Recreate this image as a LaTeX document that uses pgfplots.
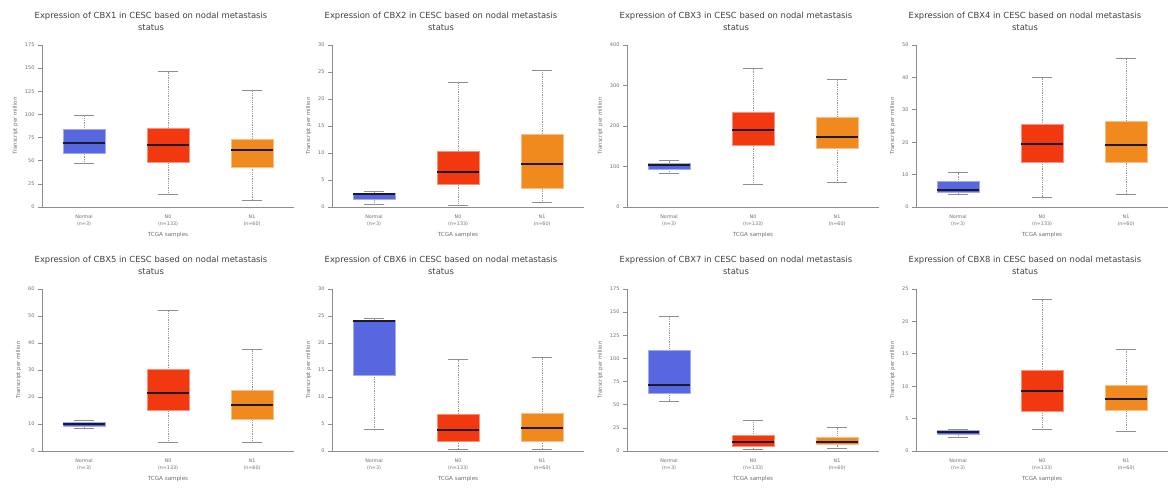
\documentclass[border=0pt]{standalone}
\usepackage{fontspec}
\setmainfont{DejaVu Sans}
\usepackage{pgfplots}
\pgfplotsset{compat=1.18}

\definecolor{cnorm}{HTML}{5767E0}
\definecolor{cn0}{HTML}{F2380E}
\definecolor{cn1}{HTML}{F08A1E}
\definecolor{axgray}{HTML}{8E8E8E}
\definecolor{txtgray}{HTML}{6E6E6E}
\definecolor{medcol}{HTML}{1A1A2A}

\pgfplotsset{
  ualcan/.style={
    scale only axis, width=252pt, height=162pt,
    xmin=0.5, xmax=3.5, ymin=0,
    axis x line=bottom, axis y line=left,
    axis line style={-, draw=axgray, line width=0.8pt},
    xtick={1,2,3},
    xticklabels={{Normal\\(n=3)},{N0\\(n=133)},{N1\\(n=60)}},
    xticklabel style={align=center, font=\fontsize{4.8}{7}\selectfont, text=txtgray},
    x tick style={draw=none},
    y tick style={draw=axgray, line width=0.7pt},
    major tick length=4pt,
    tick align=outside,
    yticklabel style={font=\fontsize{5}{5}\selectfont, text=txtgray},
    /pgf/number format/assume math mode=true,
    xlabel={TCGA samples},
    ylabel={Transcript per million},
    xlabel style={font=\fontsize{5.6}{6}\selectfont, text=txtgray},
    ylabel style={font=\fontsize{5.4}{6}\selectfont, text=txtgray},
    title style={font=\fontsize{8.4}{12}\selectfont, text=black!75, align=center, xshift=-17pt, yshift=5pt},
  },
  whisk/.style={draw=axgray!90, line width=0.8pt, densely dotted,
    mark=-, mark size=10pt, mark options={solid, draw=axgray, line width=0.9pt}},
}

% \bx{colour}{left}{centre}{right}{lower whisker}{Q1}{median}{Q3}{upper whisker}
\newcommand\bx[9]{%
  \addplot[whisk, mark indices={1}] coordinates {(#3,#5) (#3,#6)};
  \addplot[whisk, mark indices={2}] coordinates {(#3,#8) (#3,#9)};
  \addplot[fill=#1, draw=#1!55!white, line width=0.6pt]
    coordinates {(#2,#6) (#4,#6) (#4,#8) (#2,#8)} -- cycle;
  \addplot[draw=medcol, line width=2pt] coordinates {(#2,#7) (#4,#7)};
}

\begin{document}
\begin{tikzpicture}
\useasboundingbox (0,0) rectangle (1170pt,488pt);

% ---- top row ----
\begin{axis}[ualcan, at={(42pt,281pt)}, anchor=south west,
  ymax=175, ytick={0,25,...,175},
  title={Expression of CBX1 in CESC based on nodal metastasis\\status}]
  \bx{cnorm}{0.75}{1}{1.25}{46.9}{58.1}{69.3}{83.7}{99.2}
  \bx{cn0}{1.75}{2}{2.25}{13.4}{48.0}{67.1}{85.5}{146.2}
  \bx{cn1}{2.75}{3}{3.25}{7.6}{42.6}{61.7}{73.6}{126.3}
\end{axis}

\begin{axis}[ualcan, at={(332pt,281pt)}, anchor=south west,
  ymax=30, ytick={0,5,...,30},
  title={Expression of CBX2 in CESC based on nodal metastasis\\status}]
  \bx{cnorm}{0.75}{1}{1.25}{0.43}{1.35}{2.4}{2.6}{2.85}
  \bx{cn0}{1.75}{2}{2.25}{0.3}{4.27}{6.5}{10.4}{23.07}
  \bx{cn1}{2.75}{3}{3.25}{0.8}{3.5}{8.0}{13.5}{25.3}
\end{axis}

\begin{axis}[ualcan, at={(627pt,281pt)}, anchor=south west,
  ymax=400, ytick={0,100,...,400},
  title={Expression of CBX3 in CESC based on nodal metastasis\\status}]
  \bx{cnorm}{0.75}{1}{1.25}{82.5}{93.2}{103}{108}{113.8}
  \bx{cn0}{1.75}{2}{2.25}{56}{151.8}{189.7}{232.6}{342}
  \bx{cn1}{2.75}{3}{3.25}{59.4}{145}{174}{222.7}{314}
\end{axis}

\begin{axis}[ualcan, at={(916pt,281pt)}, anchor=south west,
  ymax=50, ytick={0,10,...,50},
  title={Expression of CBX4 in CESC based on nodal metastasis\\status}]
  \bx{cnorm}{0.75}{1}{1.25}{4.0}{4.4}{5.15}{7.8}{10.6}
  \bx{cn0}{1.75}{2}{2.25}{3.0}{13.9}{19.4}{25.4}{39.9}
  \bx{cn1}{2.75}{3}{3.25}{4.0}{13.9}{19.2}{26.6}{45.9}
\end{axis}

% ---- bottom row ----
\begin{axis}[ualcan, at={(42pt,37pt)}, anchor=south west,
  ymax=60, ytick={0,10,...,60},
  title={Expression of CBX5 in CESC based on nodal metastasis\\status}]
  \bx{cnorm}{0.75}{1}{1.25}{8.3}{9.0}{9.9}{10.5}{11.5}
  \bx{cn0}{1.75}{2}{2.25}{3.2}{15.1}{21.5}{30.1}{52}
  \bx{cn1}{2.75}{3}{3.25}{3.2}{11.75}{16.9}{22.6}{37.7}
\end{axis}

\begin{axis}[ualcan, at={(332pt,37pt)}, anchor=south west,
  ymax=30, ytick={0,5,...,30},
  title={Expression of CBX6 in CESC based on nodal metastasis\\status}]
  \bx{cnorm}{0.75}{1}{1.25}{3.9}{14.04}{24.1}{24.25}{24.5}
  \bx{cn0}{1.75}{2}{2.25}{0.37}{1.86}{3.96}{6.86}{16.9}
  \bx{cn1}{2.75}{3}{3.25}{0.37}{1.86}{4.2}{6.9}{17.25}
\end{axis}

\begin{axis}[ualcan, at={(627pt,37pt)}, anchor=south west,
  ymax=175, ytick={0,25,...,175},
  title={Expression of CBX7 in CESC based on nodal metastasis\\status}]
  \bx{cnorm}{0.75}{1}{1.25}{53.8}{62.8}{71.8}{108.6}{145.8}
  \bx{cn0}{1.75}{2}{2.25}{2.2}{5.4}{10.1}{16.6}{33.2}
  \bx{cn1}{2.75}{3}{3.25}{2.5}{6.9}{10.1}{14.8}{25.6}
\end{axis}

\begin{axis}[ualcan, at={(916pt,37pt)}, anchor=south west,
  ymax=25, ytick={0,5,...,25},
  title={Expression of CBX8 in CESC based on nodal metastasis\\status}]
  \bx{cnorm}{0.75}{1}{1.25}{2.1}{2.6}{3.0}{3.2}{3.4}
  \bx{cn0}{1.75}{2}{2.25}{3.25}{6.2}{9.28}{12.4}{23.4}
  \bx{cn1}{2.75}{3}{3.25}{3.0}{6.35}{8.1}{10.1}{15.7}
\end{axis}
\end{tikzpicture}
\end{document}
